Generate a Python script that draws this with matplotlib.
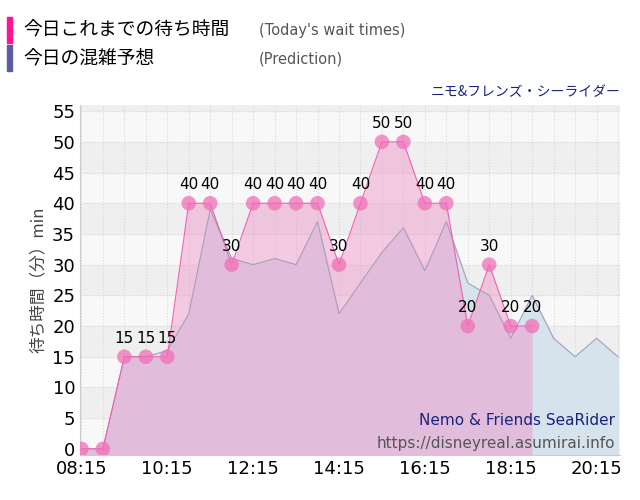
import matplotlib
matplotlib.use("Agg")
import matplotlib.pyplot as plt
import matplotlib.dates as mdates
import pandas as pd
from matplotlib.patches import Rectangle

plt.rcParams['font.family'] = ['Noto Sans CJK JP', 'DejaVu Sans']

actual_times = ["08:15","08:45","09:15","09:45","10:15","10:45","11:15","11:45","12:15","12:45","13:15",
                "13:45","14:15","14:45","15:15","15:45","16:15","16:45","17:15","17:45","18:15","18:45"]
actual_vals = [0,0,15,15,15,40,40,30,40,40,40,40,30,40,50,50,40,40,20,30,20,20]

pred_times = ["08:15","08:45","09:15","09:45","10:15","10:45","11:15","11:45","12:15","12:45","13:15",
              "13:45","14:15","14:45","15:15","15:45","16:15","16:45","17:15","17:45","18:15","18:45",
              "19:15","19:45","20:15","20:45"]
pred_vals = [0,0,15,15,16,22,39,31,30,31,30,37,22,27,32,36,29,37,27,25,18,25,18,15,18,15]

day = "2024-01-01 "
at = pd.to_datetime([day + t for t in actual_times])
pt = pd.to_datetime([day + t for t in pred_times])

fig = plt.figure(figsize=(6.4, 5.0), dpi=100)
ax = fig.add_axes([0.125, 0.09, 0.844, 0.70])
ax.set_facecolor('#f8f8f8')
ax.set_ylim(-1, 56)
xmin = pd.Timestamp(day + "08:15"); xmax = pd.Timestamp(day + "20:48")
ax.set_xlim(xmin - pd.Timedelta(minutes=2), xmax)
for y0 in range(5, 56, 10):
    ax.axhspan(y0, y0 + 5, color='#efefef', zorder=0)

ax.fill_between(pt, pred_vals, -1, color='#d6e2ec', zorder=1)
ax.fill_between(at, actual_vals, -1, color='#f090c8', alpha=0.45, zorder=2, linewidth=0)
ax.plot(pt, pred_vals, color='#a8a0b8', lw=0.8, zorder=3)
ax.plot(at, actual_vals, color='#f060b0', lw=0.8, zorder=4)
ax.scatter(at, actual_vals, s=110, color='#f070b8', alpha=0.75, zorder=5, edgecolors='none')
for t, v in zip(at[2:], actual_vals[2:]):
    ax.text(t, v + 1.8, str(v), ha='center', va='bottom', fontsize=11, family='DejaVu Sans', zorder=6)

ax.grid(True, which='both', color='#d8d8d8', linestyle=':', lw=0.8)
ax.set_axisbelow(True)
ax.set_yticks(range(0, 56, 5))
ticks = pd.date_range(day + "08:15", day + "20:15", freq="2h")
ax.set_xticks(ticks)
ax.set_xticks(pd.date_range(day + "08:45", day + "20:45", freq="30min"), minor=True)
ax.xaxis.set_major_formatter(mdates.DateFormatter('%H:%M'))
ax.tick_params(axis='both', labelsize=13, length=0, which='both')
for lab in ax.get_xticklabels() + ax.get_yticklabels():
    lab.set_family('DejaVu Sans')
for s in ['top', 'right']:
    ax.spines[s].set_visible(False)
ax.spines['left'].set_color('#cccccc'); ax.spines['bottom'].set_color('#cccccc')
ax.set_ylabel('待ち時間（分）min', fontsize=12, color='#444444')

ax.text(0.99, 0.085, 'Nemo & Friends SeaRider', transform=ax.transAxes, ha='right', fontsize=11, color='#1a237e', zorder=7, family='DejaVu Sans')
ax.text(0.99, 0.02, 'https://disneyreal.asumirai.info', transform=ax.transAxes, ha='right', fontsize=11, color='#555555', zorder=7, family='DejaVu Sans')

fig.text(0.969, 0.808, 'ニモ&フレンズ・シーライダー', ha='right', fontsize=10, color='#1a237e')
fig.patches.append(Rectangle((0.011, 0.914), 0.008, 0.052, transform=fig.transFigure, color='#ff1493'))
fig.patches.append(Rectangle((0.011, 0.858), 0.008, 0.052, transform=fig.transFigure, color='#5c5ca0'))
fig.text(0.036, 0.94, '今日これまでの待ち時間', fontsize=13.5, va='center')
fig.text(0.036, 0.882, '今日の混雑予想', fontsize=13.5, va='center')
fig.text(0.405, 0.94, "(Today's wait times)", fontsize=10.5, va='center', color='#555555', family='DejaVu Sans')
fig.text(0.405, 0.882, "(Prediction)", fontsize=10.5, va='center', color='#555555', family='DejaVu Sans')

fig.savefig('out.png', dpi=100)
